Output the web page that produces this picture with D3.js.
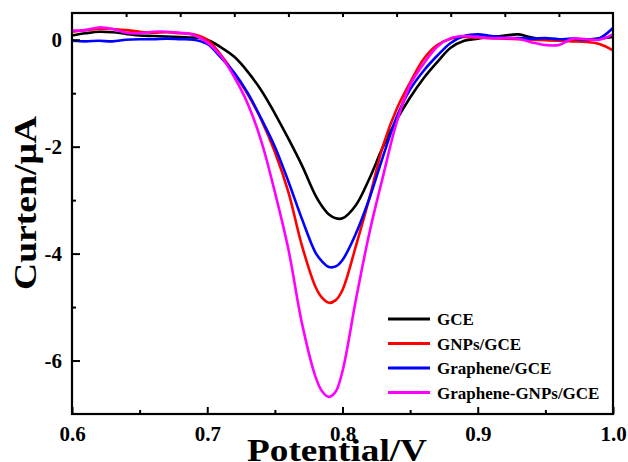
<!DOCTYPE html>
<html><head><meta charset="utf-8">
<script src="https://cdn.jsdelivr.net/npm/d3@7"></script>
<style>html,body{margin:0;padding:0;background:#fff;}</style>
</head><body>
<svg id="chart" width="628" height="462"></svg>
<script>
const potentials = [0.60,0.61,0.62,0.63,0.64,0.65,0.66,0.67,0.68,0.69,0.70,0.71,0.72,0.73,0.74,0.75,0.76,0.77,0.78,0.785,0.79,0.795,0.80,0.81,0.82,0.83,0.84,0.85,0.86,0.87,0.88,0.89,0.90,0.91,0.92,0.93,0.94,0.95,0.96,0.97,0.98,0.99,1.00];
const gce = [0.08,0.12,0.15,0.14,0.11,0.08,0.07,0.06,0.05,0.04,0.0,-0.14,-0.32,-0.6,-0.95,-1.38,-1.85,-2.35,-2.91,-3.12,-3.27,-3.34,-3.34,-3.09,-2.59,-2.0,-1.5,-1.08,-0.72,-0.42,-0.15,-0.02,0.02,0.05,0.08,0.1,0.04,0.0,-0.01,-0.02,0.0,0.02,0.05];
const gnps = [0.15,0.18,0.2,0.2,0.18,0.15,0.13,0.14,0.12,0.1,0.0,-0.28,-0.63,-1.02,-1.5,-2.1,-2.85,-3.85,-4.62,-4.83,-4.92,-4.87,-4.68,-3.85,-2.95,-1.98,-1.3,-0.8,-0.36,-0.1,0.02,0.05,0.04,0.03,0.02,0.01,0.0,-0.01,-0.02,-0.03,-0.04,-0.08,-0.2];
const graphene = [-0.02,-0.03,-0.02,-0.03,0.0,0.01,0.01,0.02,0.01,0.0,-0.08,-0.33,-0.62,-1.0,-1.48,-2.0,-2.65,-3.35,-3.98,-4.15,-4.25,-4.24,-4.12,-3.62,-2.96,-2.18,-1.45,-0.93,-0.58,-0.3,-0.06,0.07,0.1,0.07,0.04,0.03,0.02,0.03,0.01,0.02,0.0,0.03,0.22];
const grapheneGnps = [0.17,0.18,0.23,0.2,0.13,0.12,0.15,0.15,0.13,0.09,-0.05,-0.3,-0.7,-1.2,-1.9,-2.85,-3.92,-5.3,-6.3,-6.58,-6.68,-6.58,-6.2,-4.85,-3.6,-2.55,-1.55,-0.85,-0.45,-0.13,0.03,0.07,0.05,0.03,0.03,0.02,-0.05,-0.1,-0.1,0.02,0.01,0.0,0.1];
const seriesNames = ["GCE","GNPs/GCE","Graphene/GCE","Graphene-GNPs/GCE"];
const seriesColors = ["#000000","#ff0000","#0000ff","#ff00ff"];
const xTicks = [0.6,0.7,0.8,0.9,1.0];
const xTickLabels = ["0.6","0.7","0.8","0.9","1.0"];
const xMinorTicks = [0.65,0.75,0.85,0.95];
const xTopTicks = [0.64,0.68,0.72,0.76,0.80,0.84,0.88,0.92,0.96];
const yTicks = [0,-2,-4,-6];
const yTickLabels = ["0","-2","-4","-6"];
const yMinorTicks = [-1,-3,-5];

const allSeries = [gce, gnps, graphene, grapheneGnps];
const svg = d3.select("#chart");
const L = 72, R = 613, T = 13, B = 414;
const x = d3.scaleLinear().domain([0.6,1.0]).range([L,R]);
const y = d3.scaleLinear().domain([-7,0.5]).range([B,T]);
const font = "'Liberation Serif','Times New Roman',serif";

const line = d3.line().x(d=>x(d[0])).y(d=>y(d[1])).curve(d3.curveCatmullRom.alpha(0.5));
const plotG = svg.append("g");
allSeries.forEach((vals,i)=>{
  plotG.append("path")
    .datum(potentials.map((p,j)=>[p,vals[j]]))
    .attr("d", line).attr("fill","none")
    .attr("stroke", seriesColors[i]).attr("stroke-width",2.6)
    .attr("stroke-linejoin","round");
});

// axes
svg.append("g").attr("transform",`translate(0,${B})`)
  .call(d3.axisBottom(x).tickValues(xTicks).tickSize(-7).tickSizeOuter(0).tickPadding(12)
    .tickFormat((d,i)=>xTickLabels[i]));
svg.append("g").attr("transform",`translate(0,${B})`)
  .call(d3.axisBottom(x).tickValues(xMinorTicks).tickSize(-4).tickSizeOuter(0).tickFormat(""));
svg.append("g").attr("transform",`translate(0,${T})`)
  .call(d3.axisTop(x).tickValues(xTopTicks).tickSize(-4).tickSizeOuter(0).tickFormat(""));
svg.append("g").attr("transform",`translate(${L},0)`)
  .call(d3.axisLeft(y).tickValues(yTicks).tickSize(-8).tickSizeOuter(0).tickPadding(10)
    .tickFormat((d,i)=>yTickLabels[i]));
svg.append("g").attr("transform",`translate(${L},0)`)
  .call(d3.axisLeft(y).tickValues(yMinorTicks).tickSize(-4).tickSizeOuter(0).tickFormat(""));

svg.selectAll(".domain").remove();
svg.selectAll(".tick line").attr("stroke","#000").attr("stroke-width",2);
svg.selectAll(".tick text").attr("font-family",font).attr("font-weight","bold")
  .attr("font-size",21).attr("fill","#000");

svg.append("rect").attr("x",L).attr("y",T).attr("width",R-L).attr("height",B-T)
  .attr("fill","none").attr("stroke","#000").attr("stroke-width",2.2);

// axis titles
svg.append("text").attr("x",(247+427)/2).attr("y",461).attr("text-anchor","middle")
  .attr("font-family",font).attr("font-weight","bold").attr("font-size",32)
  .attr("textLength",180).attr("lengthAdjust","spacingAndGlyphs").text("Potential/V");
svg.append("text").attr("transform","translate(36,203) rotate(-90)").attr("text-anchor","middle")
  .attr("font-family",font).attr("font-weight","bold").attr("font-size",31)
  .attr("textLength",174).attr("lengthAdjust","spacingAndGlyphs").text("Curten/μA");

// legend
const lg = svg.append("g");
seriesNames.forEach((n,i)=>{
  const yy = 319 + i*24.5;
  lg.append("line").attr("x1",388).attr("x2",430).attr("y1",yy).attr("y2",yy)
    .attr("stroke",seriesColors[i]).attr("stroke-width",3);
  lg.append("text").attr("x",437).attr("y",yy+6).attr("font-family",font)
    .attr("font-weight","bold").attr("font-size",17).text(n);
});
</script>
</body></html>
